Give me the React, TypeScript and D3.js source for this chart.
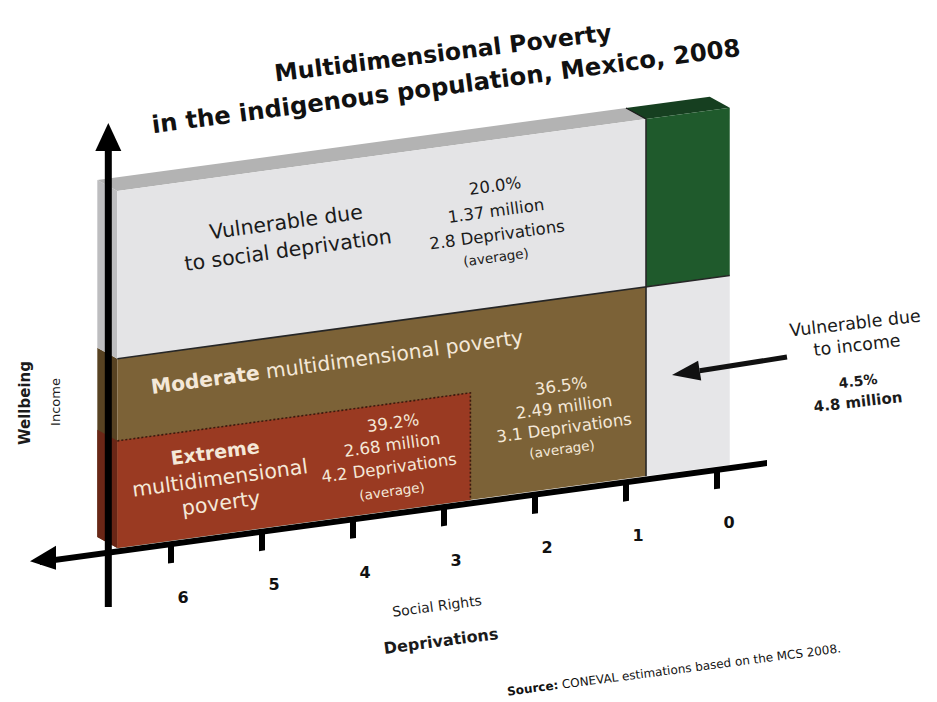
import React from "react";
import * as d3 from "d3";

// ---- data ----
const deprivationTicks = [6, 5, 4, 3, 2, 1, 0];
const regionKeys = ["moderate", "extreme", "socialVulnerable", "incomeVulnerable", "notPoor"];
// extent of each region on the deprivations axis (high -> low) and wellbeing axis (0..1)
const regionDepHigh = [6.59, 6.59, 6.59, 0.78, 0.78];
const regionDepLow = [0.78, 2.71, 0.78, -0.14, -0.14];
const regionWellLow = [0, 0, 0.53, 0, 0.53];
const regionWellHigh = [0.53, 0.3, 1, 0.53, 1];
const regionPercent = [36.5, 39.2, 20.0, 4.5, null];
const regionMillions = [2.49, 2.68, 1.37, 4.8, null];
const regionAvgDeprivations = [3.1, 4.2, 2.8, null, null];

// ---- styles ----
const frontFill: Record<string, string> = {
  moderate: "#7c6237",
  extreme: "#9a3a22",
  socialVulnerable: "#e4e4e6",
  incomeVulnerable: "#e6e6e8",
  notPoor: "#1f5a2c",
};
const sideFill: Record<string, string> = {
  moderate: "#574222",
  extreme: "#6a2616",
  socialVulnerable: "#bdbdbf",
  incomeVulnerable: "#c4c4c6",
  notPoor: "#153d1d",
};
const topFill: Record<string, string> = {
  moderate: "#6a532c",
  extreme: "#7c2d19",
  socialVulnerable: "#b3b3b3",
  incomeVulnerable: "#c4c4c6",
  notPoor: "#163f20",
};

const FONT = "'DejaVu Sans', Verdana, sans-serif";
const CREAM = "#f4e8d8";

function Label({ x, y, rot = -7.7, size = 17, weight = 400, fill = "#1b1b1b", children }: any) {
  return (
    <text
      transform={`translate(${x},${y}) rotate(${rot})`}
      textAnchor="middle"
      dominantBaseline="central"
      fontFamily={FONT}
      fontSize={size}
      fontWeight={weight}
      fill={fill}
    >
      {children}
    </text>
  );
}

export default function App() {
  const W = 937,
    H = 702;
  const K = 0.136; // slope of the plane
  const X0 = 117;
  const skewDeg = (-Math.atan(K) * 180) / Math.PI;
  const x = d3.scaleLinear().domain([6, 0]).range([171, 717]);
  const y = d3.scaleLinear().domain([0, 1]).range([548, 191]);
  const screenY = (px: number, py: number) => py - K * (px - X0);
  const DX = -20;
  const DY = -11 + K * DX; // depth offset expressed in the skewed frame
  const maxDep = d3.max(regionDepHigh) as number;
  const pts = (a: number[][]) => a.map((p) => p.join(",")).join(" ");

  const faces = regionKeys.map((k, i) => {
    const xa = x(regionDepHigh[i]);
    const xb = x(regionDepLow[i]);
    const yT = y(regionWellHigh[i]);
    const yB = y(regionWellLow[i]);
    return (
      <g key={k}>
        {regionDepHigh[i] === maxDep && (
          <polygon
            points={pts([
              [xa, yT],
              [xa, yB],
              [xa + DX, yB + DY],
              [xa + DX, yT + DY],
            ])}
            fill={sideFill[k]}
          />
        )}
        {regionWellHigh[i] === 1 && (
          <polygon
            points={pts([
              [xa, yT],
              [xb, yT],
              [xb + DX, yT + DY],
              [xa + DX, yT + DY],
            ])}
            fill={topFill[k]}
          />
        )}
        <polygon
          points={pts([
            [xa, yT],
            [xb, yT],
            [xb, yB],
            [xa, yB],
          ])}
          fill={frontFill[k]}
        />
      </g>
    );
  });

  const xLeft = x(maxDep);
  const xRight = x(d3.min(regionDepLow) as number);
  const xSplit = x(regionDepLow[0]);
  const vSplit = regionWellHigh[0];
  const xExt = x(regionDepLow[1]);
  const vExt = regionWellHigh[1];
  const axisY = y(0) + 3.5;

  // right-hand arrow
  const aStart = [787, 357];
  const aTip = [672, 375];
  const dxA = aTip[0] - aStart[0],
    dyA = aTip[1] - aStart[1];
  const lenA = Math.hypot(dxA, dyA);
  const ux = dxA / lenA,
    uy = dyA / lenA;
  const base = [aTip[0] - 28 * ux, aTip[1] - 28 * uy];
  const headPts = pts([
    aTip,
    [base[0] - uy * 10, base[1] + ux * 10],
    [base[0] + uy * 10, base[1] - ux * 10],
  ]);

  const xVert = xLeft - 9;

  return (
    <svg
      width={W}
      height={H}
      viewBox={`0 0 ${W} ${H}`}
      style={{ position: "fixed", left: 0, top: 0, display: "block", background: "#fff" }}
    >
      <rect width={W} height={H} fill="#fff" />

      {/* Title */}
      <Label x={443} y={53} rot={-7} size={23.5} weight={700} fill="#111">
        Multidimensional Poverty
      </Label>
      <Label x={446} y={86} rot={-7.5} size={24.3} weight={700} fill="#111">
        in the indigenous population, Mexico, 2008
      </Label>

      {/* Skewed plane */}
      <g transform={`translate(0 ${K * X0}) skewY(${skewDeg})`}>
        {faces}
        {/* separators */}
        <line x1={xLeft} x2={xRight} y1={y(vSplit)} y2={y(vSplit)} stroke="#262626" strokeWidth={1.6} />
        <line x1={xSplit} x2={xSplit} y1={y(1)} y2={y(0)} stroke="#262626" strokeWidth={1.6} />
        <line x1={xSplit + DX} x2={xSplit} y1={y(1) + DY} y2={y(1)} stroke="#1a1a1a" strokeWidth={1.2} />
        <path
          d={`M${xLeft},${y(vExt)} L${xExt},${y(vExt)} L${xExt},${y(0)}`}
          fill="none"
          stroke="#3a1a0e"
          strokeWidth={1.6}
          strokeDasharray="2 2"
        />
        {/* horizontal axis */}
        <line x1={40} x2={767} y1={axisY} y2={axisY} stroke="#000" strokeWidth={6} />
        <polygon
          points={pts([
            [30, axisY - 2],
            [56, axisY - 14],
            [56, axisY + 10],
          ])}
          fill="#000"
        />
        {deprivationTicks.map((d) => (
          <line key={d} x1={x(d)} x2={x(d)} y1={axisY} y2={axisY + 19} stroke="#000" strokeWidth={6} />
        ))}
      </g>

      {/* vertical axis */}
      <line x1={xVert} x2={xVert} y1={607} y2={146} stroke="#000" strokeWidth={7} />
      <polygon
        points={pts([
          [xVert, 123],
          [xVert - 13, 151],
          [xVert + 13, 151],
        ])}
        fill="#000"
      />

      {/* tick labels */}
      {deprivationTicks.map((d) => (
        <text
          key={d}
          x={x(d) + 12}
          y={screenY(x(d), axisY + 19) + 34}
          textAnchor="middle"
          dominantBaseline="central"
          fontFamily={FONT}
          fontSize={16}
          fontWeight={700}
          fill="#111"
        >
          {d}
        </text>
      ))}

      {/* Region labels: vulnerable due to social deprivation */}
      <Label x={286} y={222} size={20.5}>Vulnerable due</Label>
      <Label x={288} y={250} size={20.5}>to social deprivation</Label>
      <Label x={495} y={186} size={16.5}>{`${regionPercent[2]!.toFixed(1)}%`}</Label>
      <Label x={496} y={211} size={16.5}>{`${regionMillions[2]} million`}</Label>
      <Label x={497} y={235} size={16.5}>{`${regionAvgDeprivations[2]} Deprivations`}</Label>
      <Label x={496} y={257} size={13.5}>(average)</Label>

      {/* moderate */}
      <text
        transform={`translate(337,362) rotate(-7.7)`}
        textAnchor="middle"
        dominantBaseline="central"
        fontFamily={FONT}
        fontSize={20.3}
        fill={CREAM}
      >
        <tspan fontWeight={700}>Moderate</tspan>
        <tspan> multidimensional poverty</tspan>
      </text>
      <Label x={561} y={386} size={16.5} fill={CREAM}>{`${regionPercent[0]!.toFixed(1)}%`}</Label>
      <Label x={564} y={407} size={16.5} fill={CREAM}>{`${regionMillions[0]} million`}</Label>
      <Label x={564} y={428} size={16.5} fill={CREAM}>{`${regionAvgDeprivations[0]} Deprivations`}</Label>
      <Label x={562} y={449} size={13.5} fill={CREAM}>(average)</Label>

      {/* extreme */}
      <Label x={215} y={452} size={19} weight={700} fill={CREAM}>Extreme</Label>
      <Label x={220} y={478} size={20.5} fill={CREAM}>multidimensional</Label>
      <Label x={221} y={503} size={20.5} fill={CREAM}>poverty</Label>
      <Label x={393} y={423} size={16.5} fill={CREAM}>{`${regionPercent[1]!.toFixed(1)}%`}</Label>
      <Label x={392} y={445} size={16.5} fill={CREAM}>{`${regionMillions[1]} million`}</Label>
      <Label x={389} y={468} size={16.5} fill={CREAM}>{`${regionAvgDeprivations[1]} Deprivations`}</Label>
      <Label x={392} y={491} size={13.5} fill={CREAM}>(average)</Label>

      {/* vulnerable due to income */}
      <line x1={aStart[0]} y1={aStart[1]} x2={base[0]} y2={base[1]} stroke="#111" strokeWidth={5} />
      <polygon points={headPts} fill="#111" />
      <Label x={855} y={323} rot={-6.5} size={17.5}>Vulnerable due</Label>
      <Label x={857} y={345} rot={-6.5} size={17.5}>to income</Label>
      <Label x={858} y={381} rot={-6.5} size={14} weight={700}>{`${regionPercent[3]!.toFixed(1)}%`}</Label>
      <Label x={858} y={402} rot={-6.5} size={15} weight={700}>{`${regionMillions[3]} million`}</Label>

      {/* axis titles */}
      <Label x={25} y={403} rot={-90} size={15} weight={700}>Wellbeing</Label>
      <Label x={55} y={402} rot={-90} size={13}>Income</Label>
      <Label x={437} y={606} rot={-7.5} size={14}>Social Rights</Label>
      <Label x={441} y={641} rot={-7.5} size={16} weight={700}>Deprivations</Label>

      {/* source */}
      <text
        transform={`translate(674,670) rotate(-7.4)`}
        textAnchor="middle"
        dominantBaseline="central"
        fontFamily={FONT}
        fontSize={12}
        fill="#111"
      >
        <tspan fontWeight={700}>Source:</tspan>
        <tspan> CONEVAL estimations based on the MCS 2008.</tspan>
      </text>
    </svg>
  );
}
